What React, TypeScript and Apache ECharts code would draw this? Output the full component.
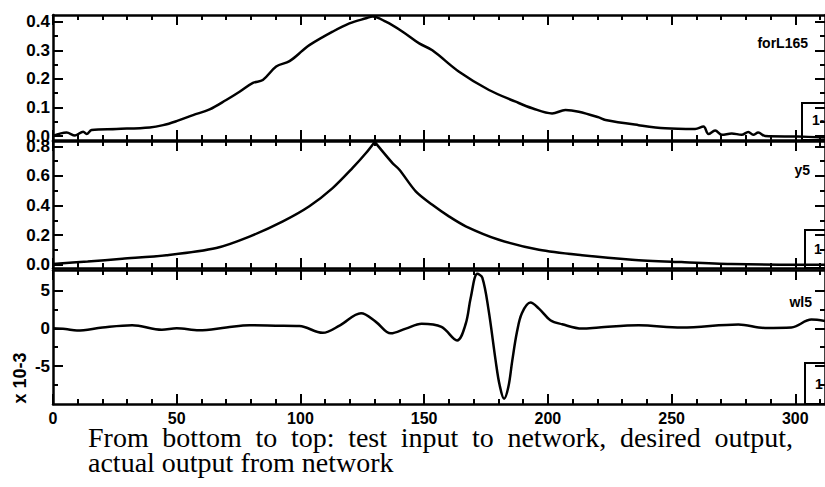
import React, { useEffect, useRef } from "react";
import * as echarts from "echarts";

// ---------- data ----------
const xMajor = [0, 50, 100, 150, 200, 250, 300];
const xMinor = [10, 20, 30, 40, 60, 70, 80, 90, 110, 120, 130, 140, 160, 170, 180, 190, 210, 220, 230, 240, 260, 270, 280, 290, 310];

// top panel: actual output from network (forL165)
const topX = [0, 5.5, 8.9, 12.2, 13.6, 15.6, 25.7, 39.1, 44.5, 49.9, 56.6, 63.3, 70, 75.4, 80.8, 84.8, 90.2, 95.6, 101, 103.6, 113, 119.8, 126.5, 129.2, 134.5, 141.3, 148, 153.3, 164.1, 176.2, 187, 193.7, 201.7, 207.1, 212.5, 220.6, 223.3, 236.7, 247.4, 259.5, 262.9, 264.9, 267.6, 270.3, 274.3, 278.3, 281, 283, 285, 287.8, 301, 312];
const topY = [0.0, 0.012, 0.002, 0.015, 0.007, 0.021, 0.0245, 0.03, 0.038, 0.052, 0.073, 0.093, 0.126, 0.155, 0.186, 0.196, 0.243, 0.262, 0.3, 0.318, 0.365, 0.394, 0.412, 0.418, 0.4, 0.365, 0.324, 0.3, 0.225, 0.161, 0.12, 0.097, 0.079, 0.091, 0.085, 0.065, 0.056, 0.038, 0.027, 0.0245, 0.033, 0.007, 0.019, 0.004, 0.009, 0.004, 0.014, 0.004, 0.012, 0.0, -0.002, -0.005];

// middle panel: desired output (y5)
const midX = [0, 14, 28, 45.8, 66, 79.4, 92.9, 103.6, 113, 121, 126.5, 130, 137.2, 140, 146.6, 153.3, 160, 166.8, 180.2, 196.4, 213.8, 234, 254, 274, 301, 312];
const midY = [0.005, 0.022, 0.04, 0.064, 0.113, 0.19, 0.293, 0.395, 0.518, 0.653, 0.755, 0.83, 0.687, 0.642, 0.496, 0.405, 0.327, 0.26, 0.169, 0.101, 0.064, 0.034, 0.018, 0.005, 0.0, 0.0];

// bottom panel: test input to network (wl5), in units of 10^-3
const botX = [0, 5, 9.7, 20, 32, 44, 50, 59, 70, 79.4, 90, 99.6, 109, 116, 124.5, 130.5, 136.5, 142.6, 149, 157, 163.3, 166.8, 168.8, 171.5, 173.5, 176, 178.9, 180.5, 182.3, 184, 185.6, 187.5, 189.5, 193, 196.4, 201, 205.8, 213.8, 220.6, 236.7, 254, 277, 287.8, 298.4, 306.5, 312];
const botY = [0, -0.1, -0.3, 0.1, 0.4, -0.2, 0, -0.25, 0.1, 0.4, 0.35, 0.3, -0.6, 0.4, 2.0, 0.85, -0.67, -0.04, 0.6, 0.18, -1.6, 0.6, 4.0, 7.2, 6.7, 2.5, -4.3, -7.5, -9.3, -7.8, -4.3, -0.5, 2.0, 3.4, 2.6, 1.07, 0.53, -0.04, 0.1, 0.4, 0.1, 0.5, 0.04, 0.1, 1.15, 0.97];

const topMajor = [0, 0.1, 0.2, 0.3, 0.4];
const topMinor = [0.05, 0.15, 0.25, 0.35];
const midMajor = [0, 0.2, 0.4, 0.6, 0.8];
const midMinor = [0.1, 0.3, 0.5, 0.7];
const botMajor = [-5, 0, 5];
const botMinor = [-7.5, -2.5, 2.5];

const seriesNames = ["forL165", "y5", "wl5"];
const boxLabels = ["1-", "1-", "1"];
const scaleLabel = "x 10-3";
const captionLine1 = "From bottom to top: test input to network, desired output,";
const captionLine2 = "actual output from network";

// ---------- styling ----------
const FONT = '"Liberation Sans", Arial, sans-serif';
const SERIF = '"Liberation Serif", "DejaVu Serif", serif';
const X_MIN = 0;
const X_MAX = 312;

const panels = [
  { top: 15, height: 125, min: -0.014, max: 0.4235, major: topMajor, minor: topMinor, fmt: (v: number) => v.toFixed(1), xs: topX, ys: topY },
  { top: 141, height: 127, min: -0.022, max: 0.836, major: midMajor, minor: midMinor, fmt: (v: number) => v.toFixed(1), xs: midX, ys: midY },
  { top: 270, height: 134, min: -10, max: 7.7, major: botMajor, minor: botMinor, fmt: (v: number) => String(v), xs: botX, ys: botY },
];

const labelStyle = { color: "#000", fontFamily: FONT, fontWeight: "bold" as const, fontSize: 16 };

function xAxisDef(gi: number, pos: string, ticks: number[], len: number, showLine: boolean, labels: boolean) {
  return {
    type: "value",
    gridIndex: gi,
    position: pos,
    min: X_MIN,
    max: X_MAX,
    axisLine: { show: showLine, onZero: false, lineStyle: { color: "#000", width: 2.5 } },
    axisTick: { show: true, inside: true, length: len, customValues: ticks, lineStyle: { color: "#000", width: 2 } },
    axisLabel: labels ? { show: true, customValues: xMajor, margin: 6, ...labelStyle } : { show: false },
    splitLine: { show: false },
  };
}

function yAxisDef(gi: number, pos: string, p: any, ticks: number[], len: number, showLine: boolean, labels: boolean) {
  return {
    type: "value",
    gridIndex: gi,
    position: pos,
    min: p.min,
    max: p.max,
    axisLine: { show: showLine, onZero: false, lineStyle: { color: "#000", width: 2.5 } },
    axisTick: { show: true, inside: true, length: len, customValues: ticks, lineStyle: { color: "#000", width: 2 } },
    axisLabel: labels
      ? { show: true, customValues: p.major, margin: 3, formatter: (v: number) => p.fmt(v), ...labelStyle, fontSize: 17 }
      : { show: false },
    splitLine: { show: false },
  };
}

export default function App() {
  const ref = useRef<HTMLDivElement>(null);

  useEffect(() => {
    if (!ref.current) return;
    const chart = echarts.init(ref.current, undefined, { renderer: "svg" });

    const grids: any[] = [];
    const xAxes: any[] = [];
    const yAxes: any[] = [];
    const series: any[] = [];

    panels.forEach((p, i) => {
      grids.push({ left: 53, top: p.top, width: 773, height: p.height, show: false, containLabel: false });
      const xb = xAxes.length;
      xAxes.push(xAxisDef(i, "bottom", xMajor, 10, true, i === 2));
      xAxes.push(xAxisDef(i, "bottom", xMinor, 5, false, false));
      xAxes.push(xAxisDef(i, "top", xMajor, 10, true, false));
      xAxes.push(xAxisDef(i, "top", xMinor, 5, false, false));
      const yb = yAxes.length;
      yAxes.push(yAxisDef(i, "left", p, p.major, 10, true, true));
      yAxes.push(yAxisDef(i, "left", p, p.minor, 5, false, false));
      yAxes.push(yAxisDef(i, "right", p, p.major, 10, true, false));
      yAxes.push(yAxisDef(i, "right", p, p.minor, 5, false, false));
      const pts = p.xs.map((x, k) => [x, p.ys[k]]);
      const base = {
        type: "line",
        name: seriesNames[i],
        xAxisIndex: xb,
        yAxisIndex: yb,
        showSymbol: false,
        clip: true,
        lineStyle: { color: "#000", width: 2.5 },
      };
      if (i === 1) {
        // keep the cusp at the peak sharp: smooth each side separately
        let pk = 0;
        p.ys.forEach((v, k) => { if (v > p.ys[pk]) pk = k; });
        series.push({ ...base, data: pts.slice(0, pk + 1), smooth: 0.3 });
        series.push({ ...base, data: pts.slice(pk), smooth: 0.3 });
      } else {
        series.push({ ...base, data: pts, smooth: 0.35 });
      }
    });

    // caption word layout (line 1 is justified)
    const cap = 28;
    const canvas = document.createElement("canvas");
    const ctx = canvas.getContext("2d")!;
    ctx.font = `${cap}px "Liberation Serif"`;
    const words = captionLine1.split(" ");
    const widths = words.map((w) => ctx.measureText(w).width);
    const lineStart = 88;
    const lineEnd = 793;
    const totalW = widths.reduce((a, b) => a + b, 0);
    const gap = (lineEnd - lineStart - totalW) / (words.length - 1);
    let cx = lineStart;
    const captionEls: any[] = [];
    words.forEach((w, k) => {
      captionEls.push({
        type: "text",
        x: cx,
        y: 437,
        style: { text: w, fill: "#000", fontFamily: SERIF, fontSize: cap, align: "left", verticalAlign: "middle" },
      });
      cx += widths[k] + gap;
    });
    captionEls.push({
      type: "text",
      x: lineStart,
      y: 462,
      style: { text: captionLine2, fill: "#000", fontFamily: SERIF, fontSize: cap, align: "left", verticalAlign: "middle" },
    });

    const boxes = [
      { x: 802, y: 103, w: 40, h: 37, tx: 812, ty: 120 },
      { x: 805, y: 230, w: 40, h: 38, tx: 814, ty: 249 },
      { x: 805, y: 363, w: 40, h: 41, tx: 815, ty: 384 },
    ];
    const nameLabels = [
      { x: 808, y: 43 },
      { x: 810, y: 170 },
      { x: 812, y: 302 },
    ];

    const graphic: any[] = [];
    boxes.forEach((b, i) => {
      graphic.push({
        type: "rect",
        shape: { x: b.x, y: b.y, width: b.w, height: b.h },
        style: { fill: "none", stroke: "#000", lineWidth: 2 },
        z: 10,
      });
      graphic.push({
        type: "text",
        x: b.tx,
        y: b.ty,
        style: { text: boxLabels[i], fill: "#000", fontFamily: FONT, fontWeight: "bold", fontSize: 14, align: "left", verticalAlign: "middle" },
        z: 10,
      });
    });
    nameLabels.forEach((n, i) => {
      graphic.push({
        type: "text",
        x: n.x,
        y: n.y,
        style: { text: seriesNames[i], fill: "#000", fontFamily: FONT, fontWeight: "bold", fontSize: 14, align: "right", verticalAlign: "middle" },
        z: 10,
      });
    });
    graphic.push({
      type: "text",
      x: 20,
      y: 378,
      rotation: Math.PI / 2,
      style: { text: scaleLabel, fill: "#000", fontFamily: FONT, fontWeight: "bold", fontSize: 18, align: "center", verticalAlign: "middle" },
    });
    graphic.push(...captionEls);

    chart.setOption({
      animation: false,
      backgroundColor: "#fff",
      grid: grids,
      xAxis: xAxes,
      yAxis: yAxes,
      series,
      graphic,
    });

    return () => chart.dispose();
  }, []);

  return (
    <div
      ref={ref}
      style={{ position: "fixed", left: 0, top: 0, width: 825, height: 487, background: "#fff" }}
    />
  );
}
